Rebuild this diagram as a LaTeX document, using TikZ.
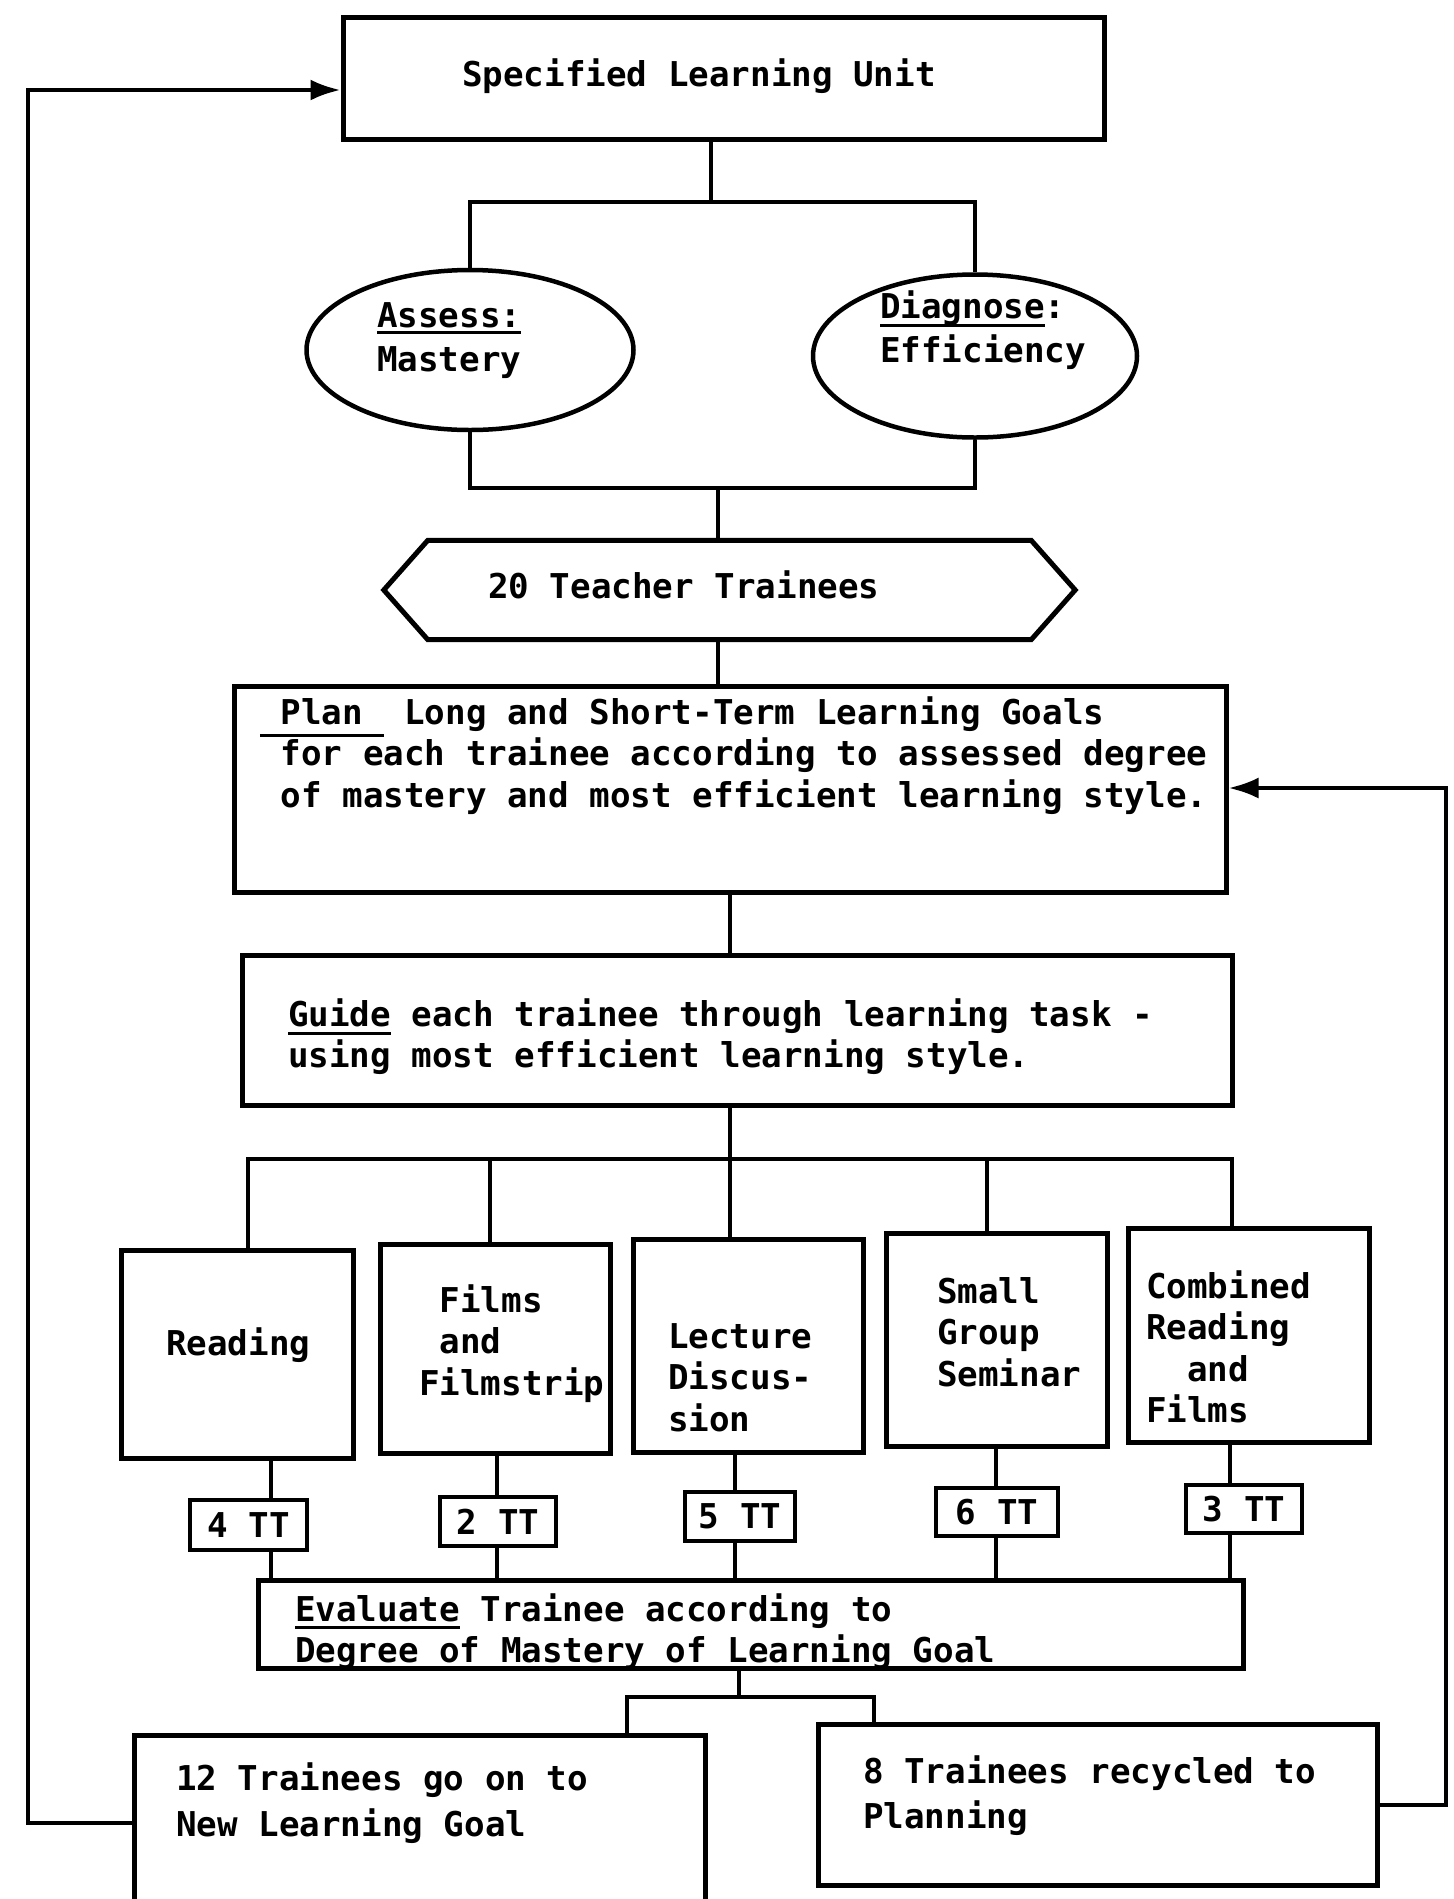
\documentclass[tikz,border=0pt]{standalone}
\usepackage{fontspec}
\setmainfont{DejaVu Sans Mono}
\usetikzlibrary{arrows.meta,shapes.geometric}
\newcommand\mystrut{\rule{0pt}{28pt}}
\newcommand\myul[2][7pt]{\leavevmode\setbox0\hbox{#2}\rlap{\rule[\dimexpr-#1-1.5pt\relax]{\wd0}{3pt}}\box0\relax}
\begin{document}
\begin{tikzpicture}[x=1pt,y=-1pt,
  font=\bfseries\fontsize{34.2}{41.5}\selectfont,
  box/.style={draw, line width=5pt, inner sep=0pt},
  oval/.style={draw, ellipse, line width=4.5pt, inner sep=0pt},
  ttbox/.style={draw, line width=4.5pt, inner sep=0pt},
  conn/.style={line width=4pt},
  arr/.style={conn, -{Latex[length=30pt,width=21pt]}},
  txt/.style={anchor=north west, inner sep=0pt, align=left}]
\useasboundingbox[fill=white] (0,0) rectangle (1454,1899);

% boxes
\node[box, minimum width=761, minimum height=122] (unit) at (723.5,78) {};
\node[oval, minimum width=327, minimum height=160] (assess) at (470,350) {};
\node[oval, minimum width=324, minimum height=163] (diag) at (975,356) {};
\node[inner sep=0pt, minimum width=691, minimum height=99] (hex) at (729.5,590) {};
\draw[line width=5pt] (hex.west) -- ([xshift=44pt]hex.north west) -- ([xshift=-44pt]hex.north east) -- (hex.east) -- ([xshift=-44pt]hex.south east) -- ([xshift=44pt]hex.south west) -- cycle;
\node[box, minimum width=992, minimum height=206] (plan) at (730,789) {};
\node[box, minimum width=990, minimum height=150] (guide) at (737,1030) {};
\node[box, minimum width=232, minimum height=208] (reading) at (237,1354) {};
\node[box, minimum width=230, minimum height=209] (films) at (495,1348.5) {};
\node[box, minimum width=230, minimum height=213] (lecture) at (748,1345.5) {};
\node[box, minimum width=221, minimum height=213] (small) at (996.5,1339.5) {};
\node[box, minimum width=241, minimum height=214] (combined) at (1248.5,1335) {};
\node[ttbox, minimum width=117, minimum height=50] (tt1) at (248.5,1525) {4 TT};
\node[ttbox, minimum width=116, minimum height=49] (tt2) at (498,1521.5) {2 TT};
\node[ttbox, minimum width=110, minimum height=49] (tt3) at (740,1516.5) {5 TT};
\node[ttbox, minimum width=122, minimum height=48] (tt4) at (997,1512) {6 TT};
\node[ttbox, minimum width=116, minimum height=48] (tt5) at (1244,1509) {3 TT};
\node[box, minimum width=985, minimum height=88] (eval) at (750.5,1624) {};
\node[box, minimum width=571, minimum height=175] (box12) at (419.5,1822.5) {};
\node[box, minimum width=559, minimum height=161] (box8) at (1097.5,1804.5) {};

% texts
\node[txt] (t1) at (462,58) {\mystrut Specified Learning Unit};
\node[txt, font=\bfseries\fontsize{34.2}{44.5}\selectfont] (t2) at (377,299) {\mystrut\myul[5pt]{Assess:}\\Mastery};
\node[txt, font=\bfseries\fontsize{34.2}{44}\selectfont] (t3) at (880,290) {\mystrut\myul[7pt]{Diagnose}:\\Efficiency};
\node[txt] (t4) at (488,570) {\mystrut 20 Teacher Trainees};
\node[txt] (t5) at (260,696) {\mystrut\myul[11pt]{ Plan } Long and Short-Term Learning Goals\\\phantom{x}for each trainee according to assessed degree\\\phantom{x}of mastery and most efficient learning style.};
\node[txt] (t6) at (288,998) {\mystrut\myul[7pt]{Guide} each trainee through learning task -\\using most efficient learning style.};
\node[txt] (t7) at (166,1327) {\mystrut Reading};
\node[txt] (t8) at (419,1284) {\mystrut\phantom{x}Films\\\phantom{x}and\\Filmstrip};
\node[txt] (t9) at (668,1320) {\mystrut Lecture\\Discus-\\sion};
\node[txt] (t10) at (937,1275) {\mystrut Small\\Group\\Seminar};
\node[txt] (t11) at (1146,1270) {\mystrut Combined\\Reading\\\phantom{xx}and\\Films};
\node[txt] (t12) at (295,1593) {\mystrut\myul[6pt]{Evaluate} Trainee according to\\Degree of Mastery of Learning Goal};
\node[txt, font=\bfseries\fontsize{34.2}{46.5}\selectfont] (t13) at (176,1762) {\mystrut 12 Trainees go on to\\New Learning Goal};
\node[txt, font=\bfseries\fontsize{34.2}{45}\selectfont] (t14) at (863,1755) {\mystrut 8 Trainees recycled to\\Planning};

% connectors
\coordinate (j1) at (711,202);
\draw[conn] (unit.south -| j1) -- (j1);
\draw[conn] (assess.north) -- (assess.north |- j1) -- (diag.north |- j1) -- (diag.north);
\coordinate (j2) at (718,488);
\draw[conn] (assess.south) -- (assess.south |- j2) -- (diag.south |- j2) -- (diag.south);
\draw[conn] (j2) -- (hex.north -| j2);
\draw[conn] (hex.south -| j2) -- (plan.north -| j2);
\draw[conn] (plan.south) -- (plan.south |- guide.north);

\coordinate (b1) at (248,1159);
\coordinate (b2) at (490,1159);
\coordinate (b3) at (730,1159);
\coordinate (b4) at (987,1159);
\coordinate (b5) at (1232,1159);
\draw[conn] (guide.south -| b3) -- (b3);
\draw[conn] (reading.north -| b1) -- (b1) -- (b5) -- (combined.north -| b5);
\draw[conn] (b2) -- (films.north -| b2);
\draw[conn] (b3) -- (lecture.north -| b3);
\draw[conn] (b4) -- (small.north -| b4);

\coordinate (k1) at (271,0);
\coordinate (k2) at (497,0);
\coordinate (k3) at (735,0);
\coordinate (k4) at (996,0);
\coordinate (k5) at (1230,0);
\draw[conn] (reading.south -| k1) -- (tt1.north -| k1);
\draw[conn] (films.south -| k2) -- (tt2.north -| k2);
\draw[conn] (lecture.south -| k3) -- (tt3.north -| k3);
\draw[conn] (small.south -| k4) -- (tt4.north -| k4);
\draw[conn] (combined.south -| k5) -- (tt5.north -| k5);
\draw[conn] (tt1.south -| k1) -- (eval.north -| k1);
\draw[conn] (tt2.south -| k2) -- (eval.north -| k2);
\draw[conn] (tt3.south -| k3) -- (eval.north -| k3);
\draw[conn] (tt4.south -| k4) -- (eval.north -| k4);
\draw[conn] (tt5.south -| k5) -- (eval.north -| k5);

\coordinate (e1) at (739,1697);
\coordinate (e2) at (627,1697);
\coordinate (e3) at (874,1697);
\draw[conn] (eval.south -| e1) -- (e1);
\draw[conn] (box12.north -| e2) -- (e2) -- (e3) -- (box8.north -| e3);

\coordinate (lc) at (28,90);
\draw[arr] (box12.west) -| (lc) -- (unit.west |- lc);
\coordinate (rc) at (1446,788);
\draw[arr] (box8.east) -| (rc) -- (plan.east |- rc);
\end{tikzpicture}
\end{document}
